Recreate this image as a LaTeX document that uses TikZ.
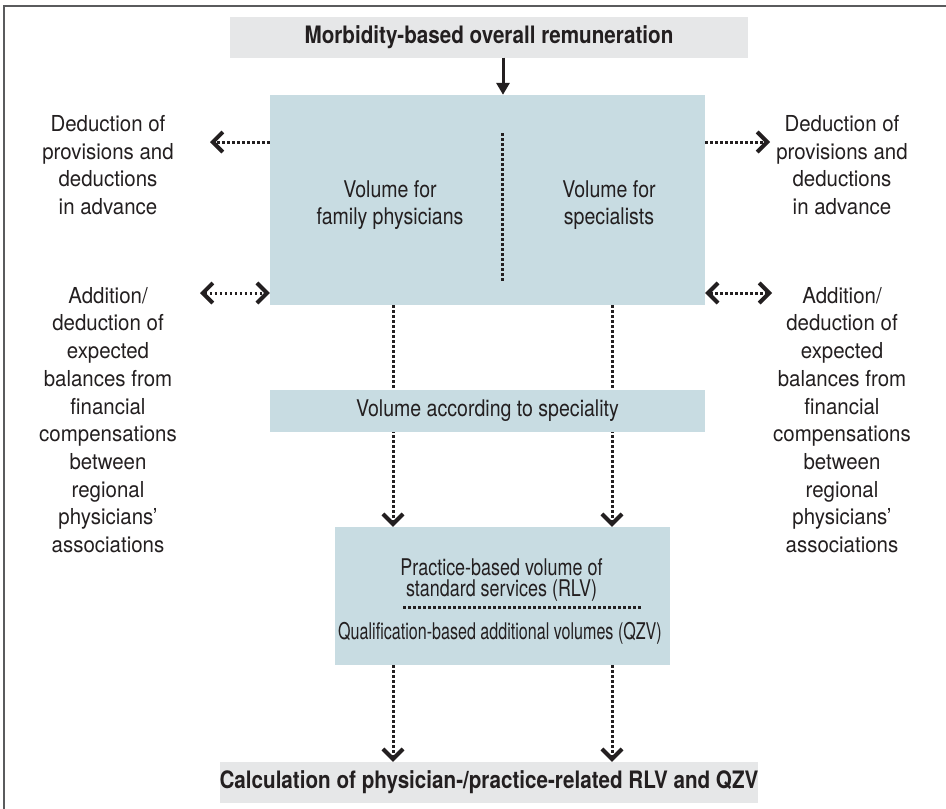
\documentclass[tikz,border=0pt]{standalone}
\usepackage{fontspec}
\setmainfont{TeX Gyre Heros}[FakeStretch=0.85]
\newfontfamily\headfont{TeX Gyre Heros}[FakeStretch=0.86]
\newfontfamily\sidefont{TeX Gyre Heros}[FakeStretch=0.93]
\newfontfamily\narrowfont{TeX Gyre Heros}[FakeStretch=0.78]
\newfontfamily\narrowerfont{TeX Gyre Heros}[FakeStretch=0.70]
\usetikzlibrary{arrows.meta}

\definecolor{panelblue}{HTML}{C8DCE2}
\definecolor{bandgray}{HTML}{E6E7E8}
\definecolor{ink}{HTML}{231F20}
\definecolor{framegray}{HTML}{5A5B5D}

\tikzset{
  panel/.style={fill=panelblue, inner sep=0pt, text=ink,
    font=\fontsize{23}{26.7}\selectfont},
  band/.style={fill=bandgray, inner sep=0pt, text=ink,
    minimum width=518pt, minimum height=41pt,
    font=\headfont\bfseries\fontsize{24}{28}\selectfont},
  boxtext/.style={align=center, text=ink, inner sep=0pt,
    font=\fontsize{23}{26.7}\selectfont},
  sidetext/.style={align=center, text=ink, inner sep=0pt,
    font=\sidefont\fontsize{22}{27.7}\selectfont},
  dotrule/.style={draw=ink, line width=3pt, dash pattern=on 2.5pt off 2.5pt},
  >={Straight Barb[length=10pt,width=20pt,line width=4pt]},
  solidarrow/.style={draw=ink, line width=3pt,
    -{Triangle[length=12pt,width=13pt]}}
}

\begin{document}
\begin{tikzpicture}[x=1pt,y=-1pt]
\useasboundingbox (0,0) rectangle (946,809);

% frame (left and top rules only)
\draw[framegray, line width=2pt] (4,809) -- (4,6) -- (946,6);

% boxes
\node[band] (top) at (489,37) {Morbidity-based overall remuneration};
\node[panel, minimum width=435pt, minimum height=210pt] (main) at (487.5,200) {};
\node[boxtext] (fam) at (390,205) {Volume for\\family physicians};
\node[boxtext] (spe) at (609,205) {Volume for\\specialists};
\draw[dotrule] (502,133) -- (502,281);

\node[panel, minimum width=335pt, minimum height=138pt] (prac) at (502.5,596) {};
\node[boxtext, font=\narrowfont\fontsize{23}{21.5}\selectfont] (rlv) at (501.5,580)
  {Practice-based volume of\\standard services (RLV)};
\draw[dotrule] (403,607) -- (642,607);
\node[boxtext, font=\narrowerfont\fontsize{23}{26}\selectfont] (qzv) at (500,633)
  {Qualification-based additional volumes (QZV)};

\node[band] (bot) at (489,782.5) {Calculation of physician-/practice-related RLV and QZV};

% side labels
\node[sidetext] (lDed) at (108,165) {Deduction of\\provisions and\\deductions\\in advance};
\node[sidetext] (rDed) at (842,165) {Deduction of\\provisions and\\deductions\\in advance};
\node[sidetext] (lAdd) at (108,420) {Addition/\\deduction of\\expected\\balances from\\financial\\compensations\\between\\regional\\physicians’\\associations};
\node[sidetext] (rAdd) at (842,420) {Addition/\\deduction of\\expected\\balances from\\financial\\compensations\\between\\regional\\physicians’\\associations};

% connectors
\coordinate (axis) at (503,0);
\draw[solidarrow] (top.south -| axis) -- (main.north -| axis);

\coordinate (lTip) at (210,142);
\coordinate (rTip) at (770,142);
\coordinate (lEnd) at (200,293);
\coordinate (rEnd) at (772,293);
\draw[dotrule,->] (main.west |- lTip) -- (lTip);
\draw[dotrule,->] (main.east |- rTip) -- (rTip);
\draw[dotrule,<->] (lEnd) -- (main.west |- lEnd);
\draw[dotrule,<->] (main.east |- rEnd) -- (rEnd);

\coordinate (colL) at (393,0);
\coordinate (colR) at (612,0);
\draw[dotrule,->] (main.south -| colL) -- (prac.north -| colL);
\draw[dotrule,->] (main.south -| colR) -- (prac.north -| colR);
\draw[dotrule,->] (prac.south -| colL) -- (bot.north -| colL);
\draw[dotrule,->] (prac.south -| colR) -- (bot.north -| colR);

% middle band laid over the two columns
\node[panel, minimum width=435pt, minimum height=42pt] (spec) at (487.5,411)
  {Volume according to speciality};
\end{tikzpicture}
\end{document}
